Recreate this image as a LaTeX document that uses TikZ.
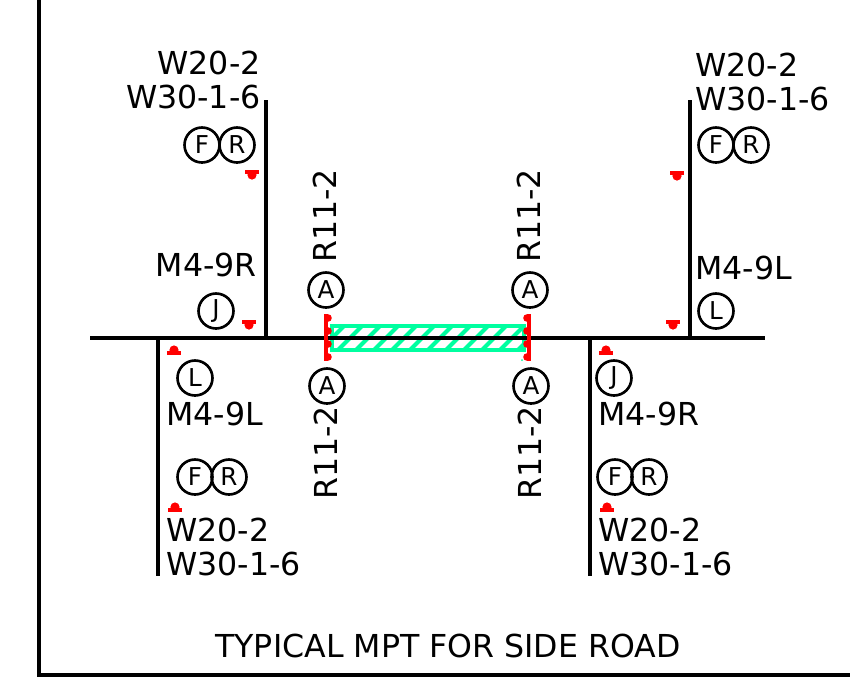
\documentclass[tikz,border=0pt]{standalone}
\usepackage{xcolor}
\usepackage{fontspec}
\setmainfont{DejaVu Sans}
\definecolor{zonegreen}{HTML}{00FFA0}
\tikzset{
    road/.style={line width=2.3pt, black},
    sign/.style={circle, draw, line width=1.5pt, minimum size=0.7cm, inner sep=0pt, font=\fontsize{14}{16}\selectfont},
    label/.style={inner sep=0pt, font=\fontsize{18}{20}\selectfont},
    device/.style={red, line width=1.9pt},
}
\newcommand{\devdown}[2]{
    \draw[device] (#1-7,#2)--(#1+7,#2);
    \fill[red] (#1,#2+3) circle(4.6);
}
\newcommand{\devup}[2]{
    \draw[device] (#1-7,#2)--(#1+7,#2);
    \fill[red] (#1,#2-3) circle(4.6);
}
\begin{document}
\begin{tikzpicture}[x=0.02cm, y=-0.02cm]
            \useasboundingbox (0,0) rectangle (850,677);
            % frame
            \draw[road] (39,0)--(39,675)--(850,675);
            % work zone
            \begin{scope}
                \clip (332,326) rectangle (524,350);
                \foreach \x in {320,338,...,540}
                    \draw[zonegreen, line width=2.4pt] (\x,350)--(\x+24,326);
            \end{scope}
            \draw[zonegreen, line width=2.2pt] (332,326) rectangle (524,350);
            \fill[zonegreen] (522,360) circle(1);
            % roads
            \draw[road] (90,338)--(765,338);
            \draw[road] (266,100)--(266,338);
            \draw[road] (690,100)--(690,338);
            \draw[road] (158,338)--(158,576);
            \draw[road] (590,338)--(590,576);
            % channelizing lines
            \draw[device] (326,314)--(326,361);
            \draw[device] (529,314)--(529,361);
            \foreach \y in {318,331,344,357} {
                \fill[red] (328,\y) circle(3.8);
                \fill[red] (527,\y) circle(3.8);
            }
            % devices
            \devdown{252}{172}
            \devdown{249}{322}
            \devdown{677}{173}
            \devdown{673}{322}
            \devup{174}{353}
            \devup{175}{510}
            \devup{606}{353}
            \devup{607}{510}
            % signs
            \node[sign] (fnw) at (202,145) {F};
            \node[sign] (rnw) at (237,145) {R};
            \node[sign] (jnw) at (216,311) {J};
            \node[sign] (fne) at (716,145) {F};
            \node[sign] (rne) at (751,145) {R};
            \node[sign] (lne) at (716,311) {L};
            \node[sign] (lsw) at (195,378) {L};
            \node[sign] (fsw) at (195,477) {F};
            \node[sign] (rsw) at (229,477) {R};
            \node[sign] (jse) at (614,378) {J};
            \node[sign] (fse) at (615,477) {F};
            \node[sign] (rse) at (649,477) {R};
            \node[sign] (atl) at (326,290) {A};
            \node[sign] (atr) at (530,290) {A};
            \node[sign] (abl) at (327,386) {A};
            \node[sign] (abr) at (531,386) {A};
            % labels
            \node[label, anchor=east] (wa) at (261,63) {W20-2};
            \node[label, anchor=east] (wb) at (261,97) {W30-1-6};
            \node[label, anchor=east] (mnw) at (257,265) {M4-9R};
            \node[label, anchor=west] (wc) at (695,65) {W20-2};
            \node[label, anchor=west] (wd) at (695,99) {W30-1-6};
            \node[label, anchor=west] (mne) at (695,268) {M4-9L};
            \node[label, anchor=west] (msw) at (166,414) {M4-9L};
            \node[label, anchor=west] (we) at (166,530) {W20-2};
            \node[label, anchor=west] (wf) at (166,564) {W30-1-6};
            \node[label, anchor=west] (mse) at (598,414) {M4-9R};
            \node[label, anchor=west] (wg) at (598,530) {W20-2};
            \node[label, anchor=west] (wh) at (598,564) {W30-1-6};
            \node[label, rotate=90] (rtl) at (325,216) {R11-2};
            \node[label, rotate=90] (rtr) at (529,216) {R11-2};
            \node[label, rotate=90] (rbl) at (326,453) {R11-2};
            \node[label, rotate=90] (rbr) at (530,453) {R11-2};
            \node[label] (title) at (448,646) {TYPICAL MPT FOR SIDE ROAD};
        \end{tikzpicture}
\end{document}
